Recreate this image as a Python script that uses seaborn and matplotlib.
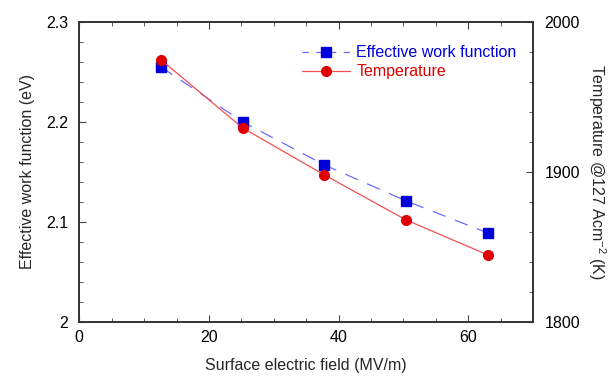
import numpy as np
import pandas as pd
import seaborn as sns
import matplotlib.pyplot as plt
from matplotlib.ticker import MultipleLocator
from matplotlib.lines import Line2D

field = [12.6, 25.2, 37.8, 50.4, 63.0]
work_function = [2.255, 2.200, 2.157, 2.121, 2.089]
temperature = [1974.7, 1929.3, 1898.0, 1868.0, 1844.7]

df = pd.DataFrame({'field': field, 'wf': work_function, 'temp': temperature})

sns.set_style("ticks")
plt.rcParams['font.family'] = ['Liberation Sans', 'DejaVu Sans']
plt.rcParams['mathtext.fontset'] = 'custom'
plt.rcParams['mathtext.rm'] = 'Liberation Sans'

fig, ax = plt.subplots(figsize=(6.1, 3.77), dpi=100)
fig.subplots_adjust(left=0.13, right=0.874, top=0.942, bottom=0.146)
ax2 = ax.twinx()

sns.lineplot(data=df, x='field', y='wf', ax=ax, color='#6b6bff', lw=0.9,
             dashes=False, linestyle=(0, (11, 8)), legend=False)
ax.plot(df['field'], df['wf'], 's', color='#0000dd', ms=7, ls='none')
sns.lineplot(data=df, x='field', y='temp', ax=ax2, color='#f05050', lw=0.9, legend=False)
ax2.plot(df['field'], df['temp'], 'o', color='#e00000', ms=7, ls='none')

ax.set_xlim(0, 70)
ax.set_ylim(2.0, 2.3)
ax2.set_ylim(1800, 2000)
ax.set_xticks([0, 20, 40, 60])
ax.xaxis.set_minor_locator(MultipleLocator(5))
ax.set_yticks([2.0, 2.1, 2.2, 2.3])
ax.set_yticklabels(['2', '2.1', '2.2', '2.3'])
ax.yaxis.set_minor_locator(MultipleLocator(0.02))
ax2.set_yticks([1800, 1900, 2000])
ax2.yaxis.set_minor_locator(MultipleLocator(20))

for a in (ax, ax2):
    a.tick_params(which='both', direction='in', labelsize=11.5, colors='#444444', labelcolor='black')
    a.tick_params(which='major', length=5)
    a.tick_params(which='minor', length=3)
    for s in a.spines.values():
        s.set_color('#333333')
        s.set_linewidth(1.2)
ax.tick_params(axis='x', which='both', top=True, pad=6)
ax.tick_params(axis='y', pad=8)
ax2.tick_params(axis='y', pad=8)

ax.set_xlabel('Surface electric field (MV/m)', fontsize=11.5, labelpad=9)
ax.set_ylabel('Effective work function (eV)', fontsize=11.5, labelpad=8)
ax2.set_ylabel(r'Temperature @127 Acm$^{\mathregular{-2}}$ (K)', fontsize=11.5,
               rotation=270, labelpad=20)

handles = [Line2D([], [], color='#6b6bff', lw=0.9, linestyle=(0, (5, 6)), marker='s',
                  mfc='#0000dd', mec='#0000dd', ms=7),
           Line2D([], [], color='#f05050', lw=0.9, marker='o',
                  mfc='#e00000', mec='#e00000', ms=7)]
leg = ax.legend(handles, ['Effective work function', 'Temperature'], loc='upper right',
                bbox_to_anchor=(0.995, 0.97), frameon=False, fontsize=11.5,
                handlelength=3, handletextpad=0.4, labelspacing=0.25)
for t, c in zip(leg.get_texts(), ['#0000dd', '#e00000']):
    t.set_color(c)

fig.savefig('out.png', dpi=100)
